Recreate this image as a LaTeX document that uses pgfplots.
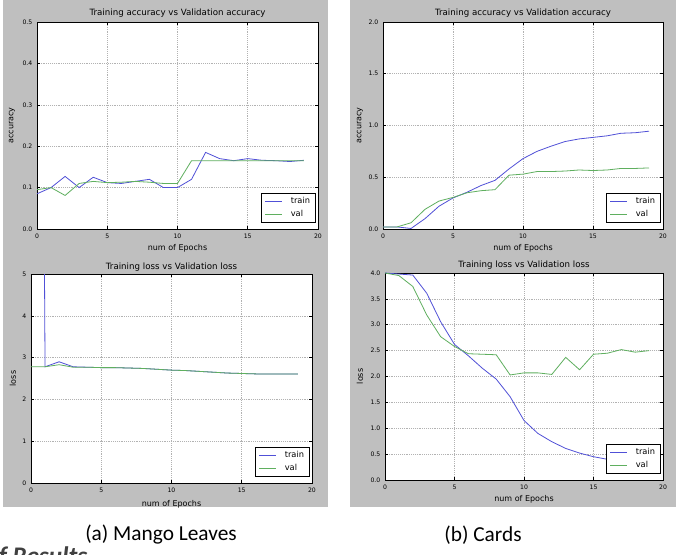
\documentclass[border=0pt]{standalone}
\usepackage{pgfplots}
\pgfplotsset{compat=1.18}
\usepackage{fontspec}
\setmainfont{Carlito}
\newfontfamily\mplfont{DejaVu Sans}

\definecolor{figgray}{RGB}{191,191,191}
\definecolor{trainblue}{RGB}{80,80,215}
\definecolor{valgreen}{RGB}{95,175,95}

% Training curves, one table per series
\pgfplotstableread{
epoch acc
0  0.085
1  0.100
2  0.127
3  0.100
4  0.125
5  0.112
6  0.110
7  0.115
8  0.120
9  0.100
10 0.100
11 0.120
12 0.185
13 0.170
14 0.165
15 0.170
16 0.166
17 0.165
18 0.163
19 0.166
}\mangoTrainAcc
\pgfplotstableread{
epoch acc
0  0.095
1  0.100
2  0.081
3  0.110
4  0.115
5  0.112
6  0.113
7  0.115
8  0.113
9  0.110
10 0.110
11 0.165
12 0.165
13 0.165
14 0.165
15 0.165
16 0.165
17 0.165
18 0.165
19 0.165
}\mangoValAcc
\pgfplotstableread{
epoch loss
0  60.0
1  2.78
2  2.90
3  2.78
4  2.77
5  2.76
6  2.76
7  2.75
8  2.74
9  2.72
10 2.70
11 2.69
12 2.67
13 2.65
14 2.63
15 2.62
16 2.61
17 2.61
18 2.61
19 2.61
}\mangoTrainLoss
\pgfplotstableread{
epoch loss
0  2.78
1  2.78
2  2.83
3  2.77
4  2.77
5  2.76
6  2.76
7  2.75
8  2.74
9  2.72
10 2.70
11 2.69
12 2.67
13 2.65
14 2.63
15 2.62
16 2.61
17 2.61
18 2.61
19 2.61
}\mangoValLoss
\pgfplotstableread{
epoch acc
0  0.020
1  0.020
2  0.005
3  0.100
4  0.220
5  0.300
6  0.355
7  0.420
8  0.470
9  0.580
10 0.680
11 0.750
12 0.800
13 0.845
14 0.870
15 0.885
16 0.900
17 0.925
18 0.930
19 0.945
}\cardsTrainAcc
\pgfplotstableread{
epoch acc
0  0.020
1  0.020
2  0.060
3  0.190
4  0.270
5  0.305
6  0.350
7  0.370
8  0.380
9  0.520
10 0.530
11 0.555
12 0.555
13 0.560
14 0.570
15 0.565
16 0.570
17 0.585
18 0.585
19 0.590
}\cardsValAcc
\pgfplotstableread{
epoch loss
0  4.00
1  3.98
2  3.96
3  3.61
4  3.06
5  2.62
6  2.40
7  2.16
8  1.95
9  1.61
10 1.15
11 0.90
12 0.74
13 0.61
14 0.52
15 0.45
16 0.40
17 0.36
18 0.33
19 0.31
}\cardsTrainLoss
\pgfplotstableread{
epoch loss
0  4.00
1  3.95
2  3.74
3  3.19
4  2.77
5  2.58
6  2.44
7  2.43
8  2.42
9  2.03
10 2.07
11 2.07
12 2.04
13 2.37
14 2.13
15 2.43
16 2.45
17 2.52
18 2.47
19 2.50
}\cardsValLoss

\pgfplotsset{
  mplpanel/.style={
    scale only axis,
    anchor=south west,
    axis background/.style={fill=white},
    xmin=0, xmax=20, xtick={0,5,10,15,20},
    grid=major,
    major grid style={densely dotted, black!30, line width=0.4pt},
    tick align=inside,
    major tick length=2.5pt,
    tick style={black, line width=0.4pt},
    axis line style={black, line width=0.6pt},
    /pgf/number format/assume math mode=true,
    ticklabel style={font=\mplfont\fontsize{4.6}{5}\selectfont},
    label style={font=\mplfont\fontsize{6}{7}\selectfont},
    title style={font=\mplfont\fontsize{6.5}{7.5}\selectfont,
      at={(axis description cs:0.5,1)}, anchor=center, yshift=0.5pt},
    xlabel={num of Epochs},
    xlabel style={at={(axis description cs:0.5,-0.092)}, anchor=center},
    legend cell align=left,
    legend image code/.code={\draw[#1] (0pt,0pt) -- (12.5pt,0pt);},
    legend style={
      at={(axis description cs:1,0)}, anchor=south east,
      xshift=-1.5pt, yshift=4.5pt,
      draw=black, line width=0.5pt, fill=white,
      font=\mplfont\fontsize{6.2}{7}\selectfont,
      inner xsep=3pt, inner ysep=2pt, row sep=1pt,
      nodes={inner sep=1.2pt},
      /tikz/every odd column/.append style={column sep=5pt},
    },
    every axis plot/.append style={line width=0.6pt},
  },
  onedec/.style={
    yticklabel style={/pgf/number format/.cd, fixed, fixed zerofill, precision=1},
  },
}

\begin{document}
\begin{tikzpicture}
\useasboundingbox (0,0) rectangle (507pt,-416.25pt);
\clip (0,0) rectangle (507pt,-416.25pt);

% figure backgrounds
\fill[figgray] (2.25pt,0) rectangle (246pt,-380.25pt);
\fill[figgray] (262.5pt,0) rectangle (507pt,-380.25pt);

% (a) accuracy
\begin{axis}[mplpanel, onedec,
  at={(27.75pt,-171.75pt)}, width=210.75pt, height=155.25pt,
  ymin=0, ymax=0.5, ytick={0,0.1,0.2,0.3,0.4,0.5},
  title={Training accuracy vs Validation accuracy},
  ylabel={accuracy},
  ylabel style={at={(axis description cs:-0.089,0.5)}, anchor=center},
]
\addplot[trainblue] table[x=epoch, y=acc] {\mangoTrainAcc};
\addplot[valgreen] table[x=epoch, y=acc] {\mangoValAcc};
\legend{train, val}
\end{axis}

% (b) accuracy
\begin{axis}[mplpanel, onedec,
  at={(287.25pt,-171.75pt)}, width=210pt, height=155.25pt,
  ymin=0, ymax=2, ytick={0,0.5,1,1.5,2},
  title={Training accuracy vs Validation accuracy},
  ylabel={accuracy},
  ylabel style={at={(axis description cs:-0.082,0.5)}, anchor=center},
]
\addplot[trainblue] table[x=epoch, y=acc] {\cardsTrainAcc};
\addplot[valgreen] table[x=epoch, y=acc] {\cardsValAcc};
\legend{train, val}
\end{axis}

% (a) loss
\begin{axis}[mplpanel,
  at={(23.25pt,-362.25pt)}, width=210.75pt, height=156.75pt,
  ymin=0, ymax=5, ytick={0,1,2,3,4,5},
  title={Training loss vs Validation loss},
  title style={yshift=-1.5pt},
  ylabel={loss},
  ylabel style={at={(axis description cs:-0.064,0.5)}, anchor=center},
  xlabel style={at={(axis description cs:0.5,-0.1)}},
]
\addplot[trainblue] table[x=epoch, y=loss] {\mangoTrainLoss};
\addplot[valgreen] table[x=epoch, y=loss] {\mangoValLoss};
\legend{train, val}
\end{axis}

% (b) loss
\begin{axis}[mplpanel, onedec,
  at={(288.75pt,-360pt)}, width=208.5pt, height=155.25pt,
  ymin=0, ymax=4, ytick={0,0.5,1,1.5,2,2.5,3,3.5,4},
  title={Training loss vs Validation loss},
  title style={yshift=-0.7pt},
  ylabel={loss},
  ylabel style={at={(axis description cs:-0.09,0.5)}, anchor=center},
]
\addplot[trainblue] table[x=epoch, y=loss] {\cardsTrainLoss};
\addplot[valgreen] table[x=epoch, y=loss] {\cardsValLoss};
\legend{train, val}
\end{axis}

% captions
\node[font=\fontsize{16}{19}\selectfont] at (120.75pt,-401.25pt) {(a) Mango Leaves};
\node[font=\fontsize{16}{19}\selectfont] at (362.25pt,-401.25pt) {(b) Cards};
% heading that continues below the lower edge
\node[anchor=north west, inner sep=0pt, text=black!75,
  font=\fontsize{19}{22}\selectfont\bfseries\itshape] at (-1pt,-410pt) {f Results};
\end{tikzpicture}
\end{document}
